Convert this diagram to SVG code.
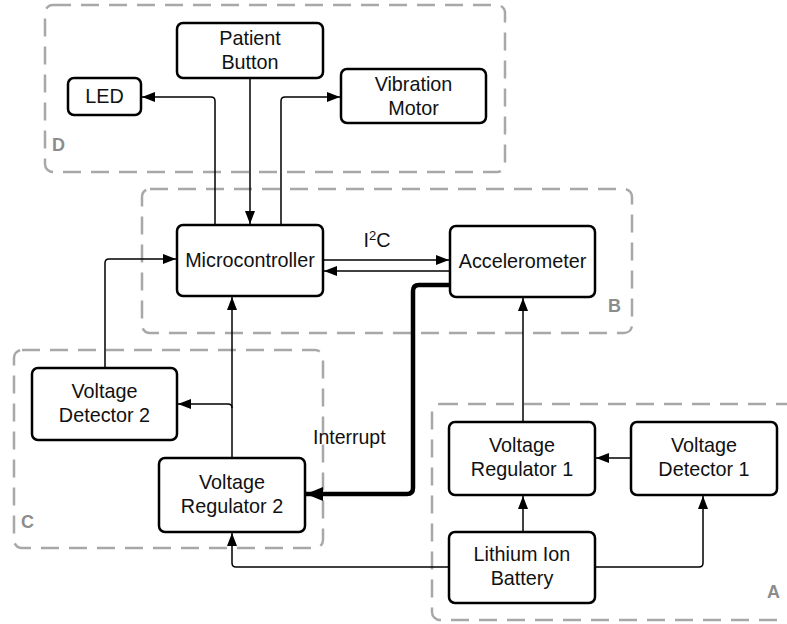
<svg xmlns="http://www.w3.org/2000/svg" width="787" height="624" viewBox="0 0 787 624">
<defs>
<style>
.grp{fill:none;stroke:#a8a8a8;stroke-width:2.5;stroke-dasharray:18 10}
.glbl{font-family:"Liberation Sans",Arial,sans-serif;font-size:18px;font-weight:bold;fill:#8c8c8c}
.box{fill:#fff;stroke:#000;stroke-width:2.5}
.t{font-family:"Liberation Sans",Arial,sans-serif;font-size:19.8px;fill:#111;text-anchor:middle}
.c{fill:none;stroke:#000;stroke-width:1.5}
.thick{fill:none;stroke:#000;stroke-width:4.5}
</style>
<marker id="ah" markerUnits="userSpaceOnUse" markerWidth="14" markerHeight="12" refX="13" refY="6" orient="auto">
<path d="M0,1 L13,6 L0,11 Z" fill="#000"/>
</marker>
<marker id="ahb" markerUnits="userSpaceOnUse" markerWidth="18" markerHeight="16" refX="17" refY="8" orient="auto">
<path d="M0,1 L17,8 L0,15 Z" fill="#000"/>
</marker>
</defs>
<rect width="787" height="624" fill="#fff"/>
<g id="groups">
<rect class="grp" x="45" y="5" width="460" height="167" rx="8"/>
<text class="glbl" x="52" y="151">D</text>
<rect class="grp" x="142" y="189" width="490" height="144" rx="8"/>
<text class="glbl" x="608" y="312">B</text>
<rect class="grp" x="14" y="350" width="309" height="198" rx="8"/>
<text class="glbl" x="21" y="528">C</text>
<rect class="grp" x="432" y="404" width="380" height="216" rx="8"/>
<text class="glbl" x="767" y="598">A</text>
</g>
<g id="connectors">
<path class="c" d="M215,225 V101 Q215,97 211,97 H142" marker-end="url(#ah)"/>
<path class="c" d="M250,78 V224" marker-end="url(#ah)"/>
<path class="c" d="M281,225 V101 Q281,97 285,97 H340" marker-end="url(#ah)"/>
<path class="c" d="M323,260 H449" marker-end="url(#ah)"/>
<path class="c" d="M450,271 H324" marker-end="url(#ah)"/>
<path class="thick" d="M450,285 H419 Q413,285 413,291 V488 Q413,494 407,494 H306" marker-end="url(#ahb)"/>
<path class="c" d="M105,368 V263 Q105,259 109,259 H176" marker-end="url(#ah)"/>
<path class="c" d="M232,458 V297" marker-end="url(#ah)"/>
<path class="c" d="M232,408 Q232,404 228,404 H178" marker-end="url(#ah)"/>
<path class="c" d="M523,422 V298" marker-end="url(#ah)"/>
<path class="c" d="M631,458 H596" marker-end="url(#ah)"/>
<path class="c" d="M523,532 V496" marker-end="url(#ah)"/>
<path class="c" d="M595,567 H699 Q703,567 703,563 V496" marker-end="url(#ah)"/>
<path class="c" d="M449,567 H236 Q232,567 232,563 V533" marker-end="url(#ah)"/>
<text x="377" y="247" font-family="Liberation Sans,Arial,sans-serif" font-size="19.8" fill="#111" text-anchor="middle">I<tspan font-size="13" dy="-7">2</tspan><tspan dy="7">C</tspan></text>
<text x="313" y="444" font-family="Liberation Sans,Arial,sans-serif" font-size="19.5" fill="#111">Interrupt</text>
</g>
<g id="patient-button">
<rect class="box" x="177" y="23" width="146" height="55" rx="6"/>
<text class="t" x="250" y="45">Patient</text>
<text class="t" x="250" y="69">Button</text>
</g>
<g id="led">
<rect class="box" x="68" y="78" width="73" height="37" rx="6"/>
<text class="t" x="104.5" y="103">LED</text>
</g>
<g id="vibration-motor">
<rect class="box" x="341" y="69" width="145" height="54" rx="6"/>
<text class="t" x="413.5" y="90.5">Vibration</text>
<text class="t" x="413.5" y="114.5">Motor</text>
</g>
<g id="microcontroller">
<rect class="box" x="177" y="225" width="146" height="71" rx="6"/>
<text class="t" x="250" y="267">Microcontroller</text>
</g>
<g id="accelerometer">
<rect class="box" x="450" y="226" width="145" height="71" rx="6"/>
<text class="t" x="522.5" y="268">Accelerometer</text>
</g>
<g id="voltage-detector-2">
<rect class="box" x="32" y="368" width="145" height="72" rx="6"/>
<text class="t" x="104.5" y="398">Voltage</text>
<text class="t" x="104.5" y="422">Detector 2</text>
</g>
<g id="voltage-regulator-2">
<rect class="box" x="159" y="458" width="146" height="74" rx="6"/>
<text class="t" x="232" y="489">Voltage</text>
<text class="t" x="232" y="513">Regulator 2</text>
</g>
<g id="voltage-regulator-1">
<rect class="box" x="449" y="422" width="146" height="73" rx="6"/>
<text class="t" x="522" y="452">Voltage</text>
<text class="t" x="522" y="476">Regulator 1</text>
</g>
<g id="voltage-detector-1">
<rect class="box" x="631" y="422" width="146" height="73" rx="6"/>
<text class="t" x="704" y="452">Voltage</text>
<text class="t" x="704" y="476">Detector 1</text>
</g>
<g id="lithium-ion-battery">
<rect class="box" x="449" y="532" width="146" height="71" rx="6"/>
<text class="t" x="522" y="561">Lithium Ion</text>
<text class="t" x="522" y="585">Battery</text>
</g>
</svg>
